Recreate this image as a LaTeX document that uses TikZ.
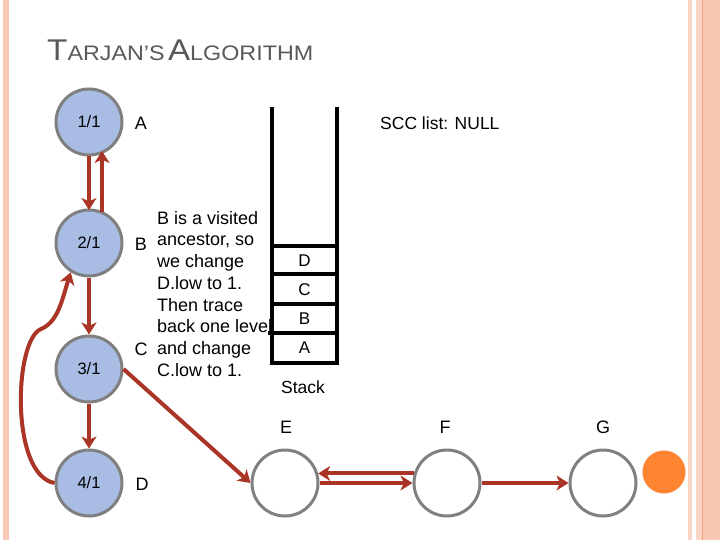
\documentclass[tikz,border=0pt]{standalone}
\usepackage{fontspec}
\setmainfont{Liberation Sans}
\usetikzlibrary{arrows.meta}
\definecolor{arrowred}{RGB}{170,52,38}
\definecolor{nodeblue}{RGB}{168,188,228}
\definecolor{nodegray}{RGB}{128,128,128}
\definecolor{stripe}{RGB}{249,200,180}
\definecolor{stripelight}{RGB}{250,212,196}
\definecolor{stripedark}{RGB}{240,160,120}
\definecolor{titlegray}{RGB}{89,89,89}
\definecolor{dotorange}{RGB}{255,133,51}
\tikzset{
  vtx/.style={circle, minimum size=66pt, inner sep=0pt, draw=nodegray, line width=3pt, fill=nodeblue, font=\fontsize{16.5}{16.5}\selectfont},
  wvtx/.style={circle, minimum size=66pt, inner sep=0pt, draw=nodegray, line width=3pt, fill=white},
  lbl/.style={font=\fontsize{18}{18}\selectfont, inner sep=0pt},
  edge/.style={draw=arrowred, line width=4pt, -{Stealth[length=12pt,width=15pt,inset=3.5pt]}},
  stk/.style={line width=3.5pt, black},
}
\begin{document}
\begin{tikzpicture}[x=1pt,y=-1pt]
\useasboundingbox (0,0) rectangle (720,540);
\fill[white] (0,0) rectangle (720,540);
% side stripes
\fill[stripe] (2.5,0) rectangle (8.5,540);
\fill[stripelight] (688,0) rectangle (692,540);
\fill[stripelight] (696,0) rectangle (702,540);
\fill[stripe] (702,0) rectangle (720,540);
\draw[stripedark, line width=1pt] (702.5,0) -- (702.5,540);
% title
\node[anchor=base west, inner sep=0pt, text=titlegray] (title) at (47,61)
  {\scalebox{1.11}[1]{{\fontsize{30}{30}\selectfont T}{\fontsize{21}{21}\selectfont ARJAN'S}\hspace{3pt}{\fontsize{30}{30}\selectfont A}{\fontsize{21}{21}\selectfont LGORITHM}}};
% explanation text
\node[lbl, anchor=north west, align=left, font=\fontsize{18}{21.7}\selectfont] (expl) at (157,211)
  {B is a visited\\ancestor, so\\we change\\D.low to 1.\\Then trace\\back one level\\and change\\C.low to 1.};
% stack
\draw[stk] (272,107) -- (272,363) -- (337,363) -- (337,107);
\draw[stk] (272,246) -- (337,246);
\draw[stk] (272,274) -- (337,274);
\draw[stk] (272,304) -- (337,304);
\draw[stk] (268,333) -- (337,333);
\node[lbl, font=\fontsize{17}{17}\selectfont] (sD) at (304.5,261) {D};
\node[lbl, font=\fontsize{17}{17}\selectfont] (sC) at (304.5,289.5) {C};
\node[lbl, font=\fontsize{17}{17}\selectfont] (sB) at (304.5,318.5) {B};
\node[lbl, font=\fontsize{17}{17}\selectfont] (sA) at (304.5,348) {A};
\node[lbl, font=\fontsize{17.5}{17.5}\selectfont] (stacklbl) at (303,387) {Stack};
\node[lbl, anchor=west, font=\fontsize{17.5}{17.5}\selectfont] (scc) at (380,123) {SCC list: NULL};
% left column vertices
\node[vtx] (n1) at (89,122) {1/1};
\node[vtx] (n2) at (89,243) {2/1};
\node[vtx] (n3) at (89,369) {3/1};
\node[vtx] (n4) at (89,483) {4/1};
\node[lbl] (lA) at (141,123) {A};
\node[lbl] (lB) at (141,244) {B};
\node[lbl] (lC) at (141,349) {C};
\node[lbl] (lD) at (142,484) {D};
% bottom row vertices
\node[wvtx] (nE) at (285,483) {};
\node[wvtx] (nF) at (447,483) {};
\node[wvtx] (nG) at (603,483) {};
\node[lbl] (lE) at (286,427) {E};
\node[lbl] (lF) at (445,427) {F};
\node[lbl] (lG) at (603,427) {G};
\fill[dotorange] (664,472) circle (21.5pt);
% edges
\coordinate (c1b) at (89,156);
\coordinate (c2t) at (89,210);
\coordinate (u2) at (102,212);
\coordinate (u1) at (102,151);
\draw[edge] (c1b) -- (c2t);
\draw[edge] (u2) -- (u1);
\draw[edge] (n2) -- (n3);
\draw[edge] (n3) -- (n4);
\coordinate (k) at (41,329);
\draw[edge] (n4.west) .. controls (10,475) and (14,340) .. (k) .. controls (58,322) and (62,300) .. (n2.-122);
\draw[edge] (n3.east) -- (nE.west);
\draw[edge] (nF.164) -- (nE.16);
\draw[edge] (nE.east) -- (nF.west);
\draw[edge] (nF.east) -- (nG.west);
\end{tikzpicture}
\end{document}
